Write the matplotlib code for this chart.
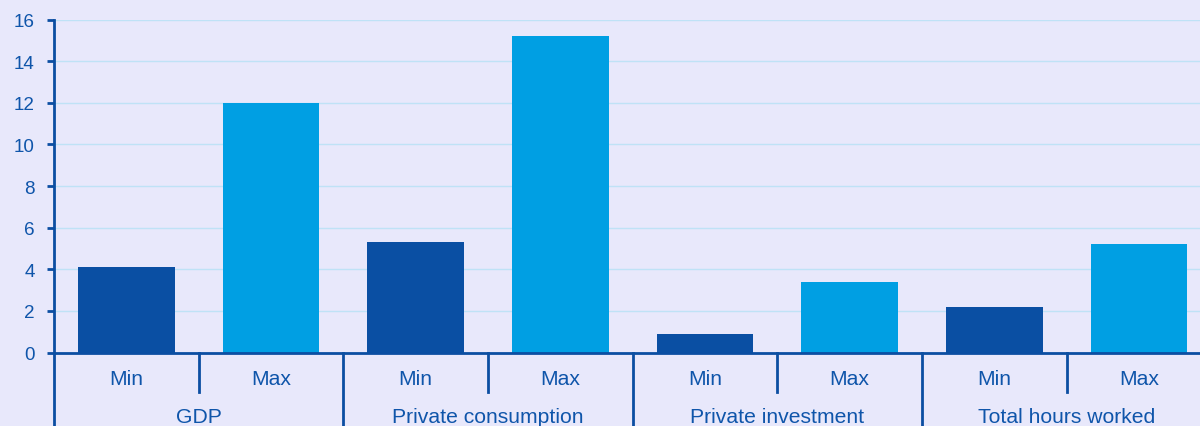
import matplotlib
matplotlib.use("Agg")
import matplotlib.pyplot as plt
import matplotlib.transforms as mtransforms

groups = ["GDP", "Private consumption", "Private investment", "Total hours worked"]
sub_labels = ["Min", "Max"]
min_values = [4.1, 5.3, 0.9, 2.2]
max_values = [12.0, 15.2, 3.4, 5.2]
y_ticks = [0, 2, 4, 6, 8, 10, 12, 14, 16]

bg = "#e8e8fb"
dark = "#0a4fa3"
light = "#009fe3"
axis_col = "#0b4ea2"
grid_col = "#bfe2f6"
text_col = "#0f55aa"

plt.rcParams["font.family"] = ["Liberation Sans", "DejaVu Sans"]

W, H = 1200, 427
left_px, bottom_px, top_px = 54, 353.5, 20.5
slot_px = (922 - 54) / 6
n_slots = 2 * len(groups)

fig = plt.figure(figsize=(W / 100, H / 100), dpi=100, facecolor=bg)
ax = fig.add_axes([left_px / W, (H - bottom_px) / H,
                   slot_px * n_slots / W, (bottom_px - top_px) / H])
ax.set_facecolor(bg)

width = 0.67
positions, heights, colors = [], [], []
for i in range(len(groups)):
    positions += [2 * i, 2 * i + 1]
    heights += [min_values[i], max_values[i]]
    colors += [dark, light]
ax.bar(positions, heights, width=width, color=colors, zorder=3)

ax.set_xlim(-0.5, n_slots - 0.5)
ax.set_ylim(0, 16)
ax.set_yticks(y_ticks)
ax.set_yticklabels([str(t) for t in y_ticks])
ax.yaxis.grid(True, color=grid_col, linewidth=1.0, zorder=0)
ax.set_axisbelow(True)

for side in ["top", "right"]:
    ax.spines[side].set_visible(False)
ax.spines["left"].set_color(axis_col)
ax.spines["left"].set_linewidth(2)
ax.spines["bottom"].set_color(axis_col)
ax.spines["bottom"].set_linewidth(2)
ax.spines["bottom"].set_zorder(4)

fs = 15.2
ax.tick_params(axis="y", colors=axis_col, labelcolor=text_col, labelsize=13.6,
               length=5, width=2, direction="out", pad=9)
ax.tick_params(axis="x", length=0, labelbottom=False)

# Two-level category axis below the plot
trans = ax.get_xaxis_transform()


def below(pixels):
    return mtransforms.offset_copy(trans, fig=fig, x=0, y=-pixels, units="dots")


for i, g in enumerate(groups):
    for j, s in enumerate(sub_labels):
        ax.text(2 * i + j, 0, s, transform=below(26), ha="center", va="center",
                fontsize=fs, color=text_col, clip_on=False)
    ax.text(2 * i + 0.5, 0, g, transform=below(64), ha="center", va="center",
            fontsize=fs, color=text_col, clip_on=False)

axes_h_px = bottom_px - top_px
for i in range(len(groups)):
    # group separator running to the bottom of the figure
    ax.plot([2 * i - 0.5, 2 * i - 0.5], [0, -80 / axes_h_px], transform=trans,
            color=axis_col, linewidth=2, clip_on=False, zorder=5)
    # separator between Min and Max
    ax.plot([2 * i + 0.5, 2 * i + 0.5], [0, -39 / axes_h_px], transform=trans,
            color=axis_col, linewidth=2, clip_on=False, zorder=5)

fig.savefig("out.png", dpi=100, facecolor=bg)
